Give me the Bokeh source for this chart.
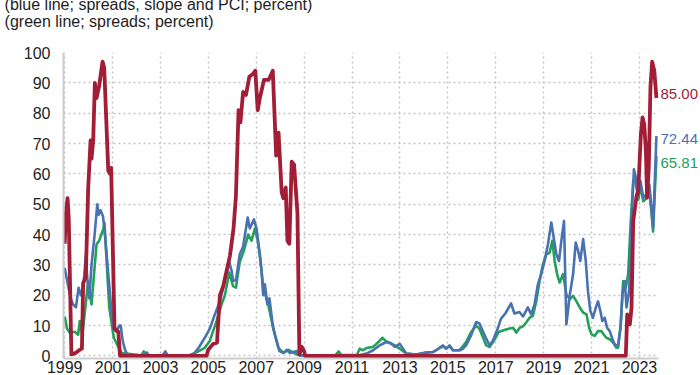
from bokeh.plotting import figure
from bokeh.models import Range1d, FixedTicker, Label, Grid
from bokeh.embed import file_html
from bokeh.resources import INLINE

# ---------------- data ----------------
x_ticks = [1999, 2001, 2003, 2005, 2007, 2009, 2011, 2013, 2015, 2017, 2019, 2021, 2023]
y_ticks = [0, 10, 20, 30, 40, 50, 60, 70, 80, 90, 100]

title_line1 = "(blue line; spreads, slope and PCI; percent)"
title_line2 = "(green line; spreads; percent)"

red_x = [1999.00, 1999.05, 1999.12, 1999.17, 1999.28, 1999.45, 1999.62, 1999.72, 1999.77, 1999.88,
         1999.98, 2000.08, 2000.12, 2000.19, 2000.26, 2000.33, 2000.44, 2000.58, 2000.65, 2000.82,
         2000.89, 2000.94, 2001.08, 2001.24, 2001.31, 2004.92, 2004.99, 2005.20, 2005.36, 2005.48,
         2005.62, 2005.76, 2005.90, 2006.05, 2006.15, 2006.26, 2006.34, 2006.45, 2006.57, 2006.71,
         2006.87, 2006.96, 2007.06, 2007.15, 2007.32, 2007.52, 2007.69, 2007.83, 2007.93, 2008.06,
         2008.13, 2008.23, 2008.30, 2008.38, 2008.48, 2008.58, 2008.72, 2008.80, 2008.90, 2009.00,
         2009.04, 2022.43, 2022.49, 2022.60, 2022.67, 2022.74, 2022.88, 2022.95, 2023.06, 2023.13,
         2023.20, 2023.27, 2023.32, 2023.39, 2023.46, 2023.53, 2023.62, 2023.71]
red_y = [37, 47, 52, 45, 0.5, 1, 2, 2.5, 24, 26,
         55, 71, 65, 71, 90, 85, 89, 97, 95, 61,
         60, 62, 9, 8, 0, 0, 2, 4, 4.4, 20,
         23, 28, 33, 42, 52.7, 81, 77, 87, 86, 92,
         93, 94, 81, 85, 91, 91, 94, 66, 73.6, 54,
         52, 55.5, 38, 37, 64, 63, 47, 0.5, 3, 1.5,
         0, 0, 13.7, 10.4, 16, 44.5, 52.7, 54.4, 73, 78.6,
         76.4, 67.6, 52.2, 62, 88.5, 97, 94, 85]

blue_x = [1999.00, 1999.12, 1999.25, 1999.35, 1999.47, 1999.58, 1999.68, 1999.78, 1999.88, 1999.95,
          2000.03, 2000.12, 2000.25, 2000.36, 2000.42, 2000.50, 2000.60, 2000.68, 2000.82, 2000.95,
          2001.03, 2001.15, 2001.28, 2001.34, 2001.42, 2001.52, 2001.62, 2002.30, 2002.42, 2002.52,
          2003.10, 2003.20, 2003.30, 2004.22, 2004.40, 2004.60, 2004.85, 2005.06, 2005.27, 2005.48,
          2005.62, 2005.87, 2005.97, 2006.03, 2006.15, 2006.31, 2006.45, 2006.64, 2006.73, 2006.90,
          2007.01, 2007.15, 2007.22, 2007.29, 2007.36, 2007.46, 2007.55, 2007.69, 2007.78, 2007.97,
          2008.13, 2008.27, 2008.41, 2008.69, 2008.83, 2010.49, 2011.32, 2011.60, 2011.88, 2012.15,
          2012.43, 2012.64, 2012.78, 2012.99, 2013.13, 2013.26, 2013.68, 2014.10, 2014.38, 2014.51,
          2014.72, 2014.79, 2014.93, 2015.07, 2015.21, 2015.49, 2015.63, 2015.76, 2015.97, 2016.18,
          2016.32, 2016.60, 2016.74, 2016.88, 2017.08, 2017.22, 2017.40, 2017.64, 2017.78, 2017.99,
          2018.14, 2018.34, 2018.48, 2018.62, 2018.76, 2018.90, 2019.04, 2019.18, 2019.32, 2019.42,
          2019.53, 2019.64, 2019.74, 2019.85, 2019.95, 2020.09, 2020.23, 2020.34, 2020.44, 2020.53,
          2020.65, 2020.76, 2020.85, 2020.95, 2021.06, 2021.18, 2021.27, 2021.37, 2021.45, 2021.55,
          2021.65, 2021.76, 2021.90, 2022.01, 2022.11, 2022.21, 2022.29, 2022.39, 2022.46, 2022.57,
          2022.67, 2022.77, 2022.85, 2022.95, 2023.04, 2023.16, 2023.30, 2023.41, 2023.50, 2023.57,
          2023.71]
blue_y = [29, 24, 19, 17, 16, 22.5, 20, 23, 33, 25,
          19, 30, 40, 50, 46.5, 48, 46, 40, 27, 15,
          9, 8, 10, 10, 5, 2, 0.3, 0.2, 1.2, 0.2,
          0.3, 1.5, 0.2, 0.3, 0.8, 2.8, 6, 9, 13.7, 18,
          22.5, 31, 28, 24.7, 25, 33.5, 36, 45.6, 42, 45,
          42, 33.5, 28, 20, 23.6, 17, 19, 10, 7, 1.6,
          1, 2, 1, 1.6, 0.2, 0.2, 0.3, 0.8, 1.9, 3.5,
          4.6, 4, 3, 4, 2.4, 0.8, 0.5, 1.1, 1.3, 1.9,
          3, 3.5, 2.4, 3.5, 1.9, 1.9, 2.4, 3.5, 6.8, 11.2,
          10.7, 5.7, 3.5, 5, 9, 12.3, 14, 17.3, 14, 14.5,
          13, 16, 13.7, 17, 23.6, 27, 31.3, 36.8, 44, 39,
          33.5, 31.3, 38, 44.5, 10.4, 20, 27, 37.4, 34.6, 31.3,
          38.5, 31.3, 21.4, 14.8, 12.6, 16, 18, 14.8, 11.5, 12.6,
          9.3, 8.2, 5, 3.3, 3.8, 9.3, 20.3, 24.7, 16, 21.4,
          44.5, 61.5, 58.8, 52.7, 57.7, 52.2, 53.3, 56.6, 48.9, 42.3,
          72.44]

green_x = [1999.00, 1999.10, 1999.21, 1999.42, 1999.56, 1999.63, 1999.74, 1999.98, 2000.12, 2000.33,
           2000.44, 2000.62, 2000.66, 2000.86, 2001.05, 2001.24, 2001.38, 2002.20, 2002.30, 2002.40,
           2003.10, 2003.20, 2003.30, 2004.22, 2004.50, 2004.85, 2005.06, 2005.34, 2005.55, 2005.69,
           2005.87, 2006.03, 2006.15, 2006.31, 2006.48, 2006.66, 2006.80, 2006.94, 2007.06, 2007.18,
           2007.29, 2007.50, 2007.71, 2007.92, 2008.13, 2008.34, 2008.69, 2008.83, 2010.30, 2010.44,
           2010.55, 2011.20, 2011.32, 2011.46, 2011.60, 2011.88, 2012.10, 2012.26, 2012.43, 2012.57,
           2012.78, 2012.99, 2013.26, 2013.68, 2014.10, 2014.38, 2014.51, 2014.72, 2014.79, 2014.93,
           2015.07, 2015.21, 2015.49, 2015.76, 2015.97, 2016.18, 2016.32, 2016.60, 2016.74, 2016.92,
           2017.12, 2017.33, 2017.54, 2017.72, 2017.86, 2018.00, 2018.14, 2018.27, 2018.41, 2018.55,
           2018.69, 2018.83, 2018.97, 2019.11, 2019.25, 2019.36, 2019.46, 2019.56, 2019.67, 2019.81,
           2019.95, 2020.09, 2020.23, 2020.37, 2020.51, 2020.65, 2020.79, 2020.90, 2021.00, 2021.13,
           2021.27, 2021.41, 2021.51, 2021.62, 2021.76, 2021.90, 2022.04, 2022.11, 2022.22, 2022.32,
           2022.43, 2022.53, 2022.63, 2022.74, 2022.85, 2022.95, 2023.04, 2023.16, 2023.30, 2023.41,
           2023.50, 2023.57, 2023.71]
green_y = [13, 9, 7.7, 8, 7, 11.5, 7, 24.7, 17, 36.8,
           38, 42, 44, 16, 6, 3, 1, 0.2, 1.5, 0.2,
           0.2, 0.8, 0.2, 0.2, 1.2, 2.7, 5, 11.5, 17, 20,
           27.5, 23, 22.5, 31, 34.6, 40, 38, 42, 38, 31,
           22.5, 17, 9, 2.7, 1, 2, 0.5, 0.2, 0.2, 1.5,
           0.3, 0.3, 2.4, 1.9, 2.6, 3, 4.6, 6, 4.8, 4.4,
           3.5, 2.4, 0.8, 0.5, 1.1, 1.3, 1.9, 3, 3.3, 2.4,
           3.3, 1.9, 1.9, 4.6, 7.9, 10, 9, 3.5, 3, 5,
           7.9, 8.5, 9, 9.3, 7.7, 9.3, 9.8, 11, 12.6, 13.2,
           18, 24.7, 30.2, 33.5, 34, 38, 31.3, 27, 24.2, 27,
           20.3, 18.7, 19.8, 18, 16, 14.3, 13.7, 9.3, 7.1, 6.6,
           8.2, 8.2, 7.1, 6, 5.5, 4.4, 2.7, 2.7, 10.4, 24.7,
           22.5, 27, 43.4, 57.7, 57, 51.5, 56, 51, 52, 55,
           47.5, 41, 65.81]

end_labels = ["85.00", "72.44", "65.81"]
end_label_y = [86.4, 71.5, 63.5]

assert len(red_x) == len(red_y)
assert len(blue_x) == len(blue_y)
assert len(green_x) == len(green_y)

# ---------------- styling ----------------
RED = "#a21d36"
BLUE = "#4a72b0"
GREEN = "#23a05a"
GRID = "#c4c4c4"
AXIS = "#cdcdcd"
TEXT = "#1e1e1e"
FONT = "Liberation Sans"

X0, X1 = 1998.95, 2023.79      # extent of the plotted axes
Y0, Y1 = -0.83, 100

p = figure(width=700, height=375,
           x_range=Range1d(X0, 2025.55), y_range=Range1d(Y0, Y1),
           output_backend="svg", toolbar_location=None,
           min_border_left=63, min_border_right=0, min_border_top=52, min_border_bottom=0)
p.outline_line_color = None
p.background_fill_color = "white"
p.border_fill_color = "white"

for ax, tk in ((p.xaxis, x_ticks), (p.yaxis, y_ticks)):
    ax.ticker = FixedTicker(ticks=tk)
    ax.axis_line_color = AXIS
    ax.axis_line_width = 2
    ax.major_tick_line_color = None
    ax.minor_tick_line_color = None
    ax.major_tick_out = 0
    ax.major_tick_in = 0
    ax.major_label_text_font = FONT
    ax.major_label_text_font_size = "16px"
    ax.major_label_text_color = TEXT
p.xaxis.bounds = (X0, X1)
p.xaxis.major_label_standoff = 2
p.yaxis.major_label_standoff = 13

for g in (p.xgrid, p.ygrid):
    g.grid_line_color = GRID
    g.grid_line_dash = "2 3"
    g.grid_line_width = 1.5
if "cross_bounds" in Grid.properties():
    p.ygrid.cross_bounds = (X0, X1)

p.line(green_x, green_y, line_color=GREEN, line_width=2.6, line_join="round")
p.line(blue_x, blue_y, line_color=BLUE, line_width=2.6, line_join="round")
p.line(red_x, red_y, line_color=RED, line_width=3.8, line_join="round")

for txt, yv, col in zip(end_labels, end_label_y, [RED, BLUE, GREEN]):
    p.add_layout(Label(x=2023.88, y=yv, text=txt, text_color=col, text_font=FONT,
                       text_font_size="15px", text_baseline="middle", text_align="left"))

p.add_layout(Label(x=1996.49, y=115.9, text=title_line1, text_color=TEXT, text_font=FONT,
                   text_font_size="16px", text_baseline="alphabetic"), "above")
p.add_layout(Label(x=1996.49, y=110.3, text=title_line2, text_color=TEXT, text_font=FONT,
                   text_font_size="16px", text_baseline="alphabetic"), "above")

open("out.html", "w").write(file_html(p, INLINE))
